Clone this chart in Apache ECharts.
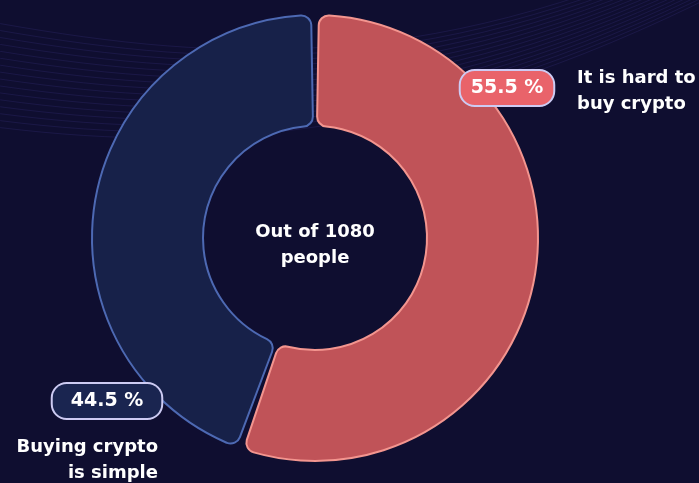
<!DOCTYPE html>
<html>
<head>
<meta charset="utf-8">
<script src="https://cdn.jsdelivr.net/npm/echarts@6/dist/echarts.min.js"></script>
<style>
  html, body { margin: 0; padding: 0; background: #0f0e30; }
  #main { width: 699px; height: 483px; }
</style>
</head>
<body>
<div id="main"></div>
<script>
// survey answers (people)
const categories = ['It is hard to buy crypto', 'Buying crypto is simple'];
const counts = [599, 481];
const nameLines = [['It is hard to', 'buy crypto'], ['Buying crypto', 'is simple']];
const totalPeople = 1080;

const fills = ['#c05358', '#172149'];
const borders = ['#f3958f', '#4d69b3'];
const pillColors = ['#e9636a', '#1a2550'];
const pillPadding = [[8, 10, 7, 10], [8, 18, 7, 18]];
const font = '"DejaVu Sans"';

const chart = echarts.init(document.getElementById('main'));

// faint background waves
const waves = [];
for (let i = 0; i < 16; i++) {
  const o = i * 7;
  waves.push({
    type: 'bezierCurve',
    silent: true,
    z: -10,
    shape: { x1: -20, y1: 20 + o, cpx1: 200, cpy1: 60 + o * 0.9, cpx2: 420, cpy2: 80 + o * 0.6, x2: 720, y2: -60 + o * 0.5 },
    style: { stroke: 'rgba(70,60,150,0.22)', lineWidth: 1, fill: null }
  });
}

chart.setOption({
  backgroundColor: '#0f0e30',
  graphic: waves.concat([
    {
      type: 'text', x: 315, y: 245, z: 10,
      style: { text: 'Out of ' + totalPeople + '\npeople', fill: '#ffffff', font: '700 18px ' + font, lineHeight: 26, align: 'center', verticalAlign: 'middle' }
    },
    {
      type: 'text', x: 577, y: 91,
      style: { text: nameLines[0].join('\n'), fill: '#ffffff', font: '700 18px ' + font, lineHeight: 26, verticalAlign: 'middle' }
    },
    {
      type: 'text', x: 158, y: 460,
      style: { text: nameLines[1].join('\n'), fill: '#ffffff', font: '700 18px ' + font, lineHeight: 26, align: 'right', verticalAlign: 'middle' }
    }
  ]),
  series: [{
    type: 'pie',
    center: [315, 238],
    radius: [112, 223],
    startAngle: 90,
    padAngle: 2,
    percentPrecision: 1,
    itemStyle: { borderRadius: 10, borderWidth: 2 },
    emphasis: { disabled: true },
    labelLine: { show: false },
    label: {
      show: true,
      position: 'inside',
      overflow: 'none',
      formatter: p => p.percent.toFixed(1) + ' %',
      color: '#ffffff',
      fontSize: 19,
      fontWeight: 700,
      fontFamily: font,
      borderColor: '#cdcbf3',
      borderWidth: 2,
      borderRadius: 14
    },
    labelLayout: p => p.dataIndex === 0
      ? { x: 507, y: 88, align: 'center', verticalAlign: 'middle' }
      : { x: 107, y: 401, align: 'center', verticalAlign: 'middle' },
    data: categories.map((c, i) => ({
      name: c,
      value: counts[i],
      itemStyle: { color: fills[i], borderColor: borders[i] },
      label: { backgroundColor: pillColors[i], padding: pillPadding[i] }
    }))
  }]
});
</script>
</body>
</html>
